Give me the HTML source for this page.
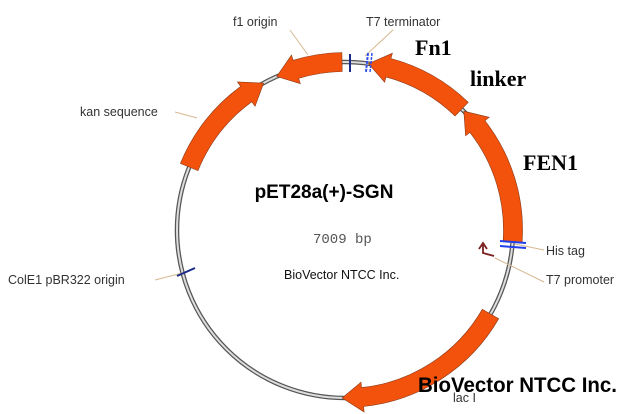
<!DOCTYPE html>
<html><head><meta charset="utf-8"><style>
html,body{margin:0;padding:0;background:#fff;width:634px;height:414px;overflow:hidden}
svg{display:block}
.s{font-family:"Liberation Sans",Arial,sans-serif;font-size:12.5px;fill:#333}
.b{font-family:"Liberation Serif",serif;font-weight:bold;font-size:22px;fill:#000}
</style></head><body>
<svg id="v" width="634" height="414" viewBox="0 0 634 414" xmlns="http://www.w3.org/2000/svg">
<circle cx="345" cy="230" r="168" fill="none" stroke="#555" stroke-width="4.5"/>
<circle cx="345" cy="230" r="168" fill="none" stroke="#ddd" stroke-width="2"/>
<g id="arrows" fill="#f2520c" stroke="#8a3a1a" stroke-width="0.6"></g>
<g stroke="#d6b992" stroke-width="1" fill="none">
<line x1="290" y1="30" x2="308" y2="55"/>
<line x1="393" y1="30" x2="365" y2="56"/>
<line x1="175" y1="112" x2="197" y2="118"/>
<line x1="155" y1="280" x2="186" y2="272"/>
<line x1="544" y1="250" x2="515" y2="244"/>
<line x1="544" y1="282" x2="495" y2="258"/>
</g>
<line x1="350" y1="54" x2="350" y2="72" stroke="#1a2a8a" stroke-width="2"/>
<line x1="368" y1="53" x2="366" y2="72" stroke="#3050ee" stroke-width="2" stroke-dasharray="3,1"/>
<line x1="372" y1="53" x2="370" y2="72" stroke="#3050ee" stroke-width="1.5" stroke-dasharray="3,1"/>
<line x1="500" y1="241" x2="526" y2="243" stroke="#2040ee" stroke-width="2"/>
<line x1="500" y1="246" x2="526" y2="248" stroke="#2040ee" stroke-width="2"/>
<line x1="177" y1="276" x2="195" y2="268" stroke="#1a2a8a" stroke-width="2"/>
<path d="M483 245 L483 253 L494 256 M479 249 L483 243 L487 249" fill="none" stroke="#7a2020" stroke-width="1.8"/>
<text class="s" x="233" y="26">f1 origin</text>
<text class="s" x="366" y="26">T7 terminator</text>
<text class="s" x="80" y="116">kan sequence</text>
<text class="s" x="8" y="284">ColE1 pBR322 origin</text>
<text class="s" x="546" y="255">His tag</text>
<text class="s" x="546" y="284">T7 promoter</text>
<text class="s" x="453" y="402">lac I</text>
<text class="b" x="415" y="55">Fn1</text>
<text class="b" x="470" y="86">linker</text>
<text class="b" x="523" y="170">FEN1</text>
<text x="324" y="198" text-anchor="middle" font-family="Liberation Sans,sans-serif" font-weight="bold" font-size="19">pET28a(+)-SGN</text>
<text x="313" y="243" font-family="Liberation Mono,monospace" font-size="14" fill="#555">7009 bp</text>
<text x="284" y="279" font-family="Liberation Sans,sans-serif" font-size="12.5" fill="#111">BioVector NTCC Inc.</text>
<text x="418" y="392" font-family="Liberation Sans,sans-serif" font-weight="bold" font-size="21" fill="#000" textLength="199" lengthAdjust="spacingAndGlyphs">BioVector NTCC Inc.</text>
</svg>
<script>
(function(){
var cx=345,cy=230,R=168,w=19,hw=30,hl=7;
function P(t,r){t=t*Math.PI/180;return (cx+r*Math.sin(t)).toFixed(1)+' '+(cy-r*Math.cos(t)).toFixed(1);}
function arc(a,b,r){var sw=b>a?1:0,lg=Math.abs(b-a)>180?1:0;return 'A'+r+' '+r+' 0 '+lg+' '+sw+' '+P(b,r);}
function arrow(a1,a2,headEnd){
var ro=R+w/2,ri=R-w/2,d;
if(headEnd){var hb=a2-hl;
d='M'+P(a1,ro)+arc(a1,hb,ro)+'L'+P(hb,R+hw/2)+'L'+P(a2,R)+'L'+P(hb,R-hw/2)+'L'+P(hb,ri)+arc(hb,a1,ri)+'Z';}
else{var hb=a1+hl;
d='M'+P(a2,ro)+arc(a2,hb,ro)+'L'+P(hb,R+hw/2)+'L'+P(a1,R)+'L'+P(hb,R-hw/2)+'L'+P(hb,ri)+arc(hb,a2,ri)+'Z';}
var p=document.createElementNS('http://www.w3.org/2000/svg','path');p.setAttribute('d',d);document.getElementById('arrows').appendChild(p);}
arrow(-24,-1,false);
arrow(-68,-29,true);
arrow(8,44,false);
arrow(45,94,false);
arrow(120,181,true);
})();
</script>
</body></html>
